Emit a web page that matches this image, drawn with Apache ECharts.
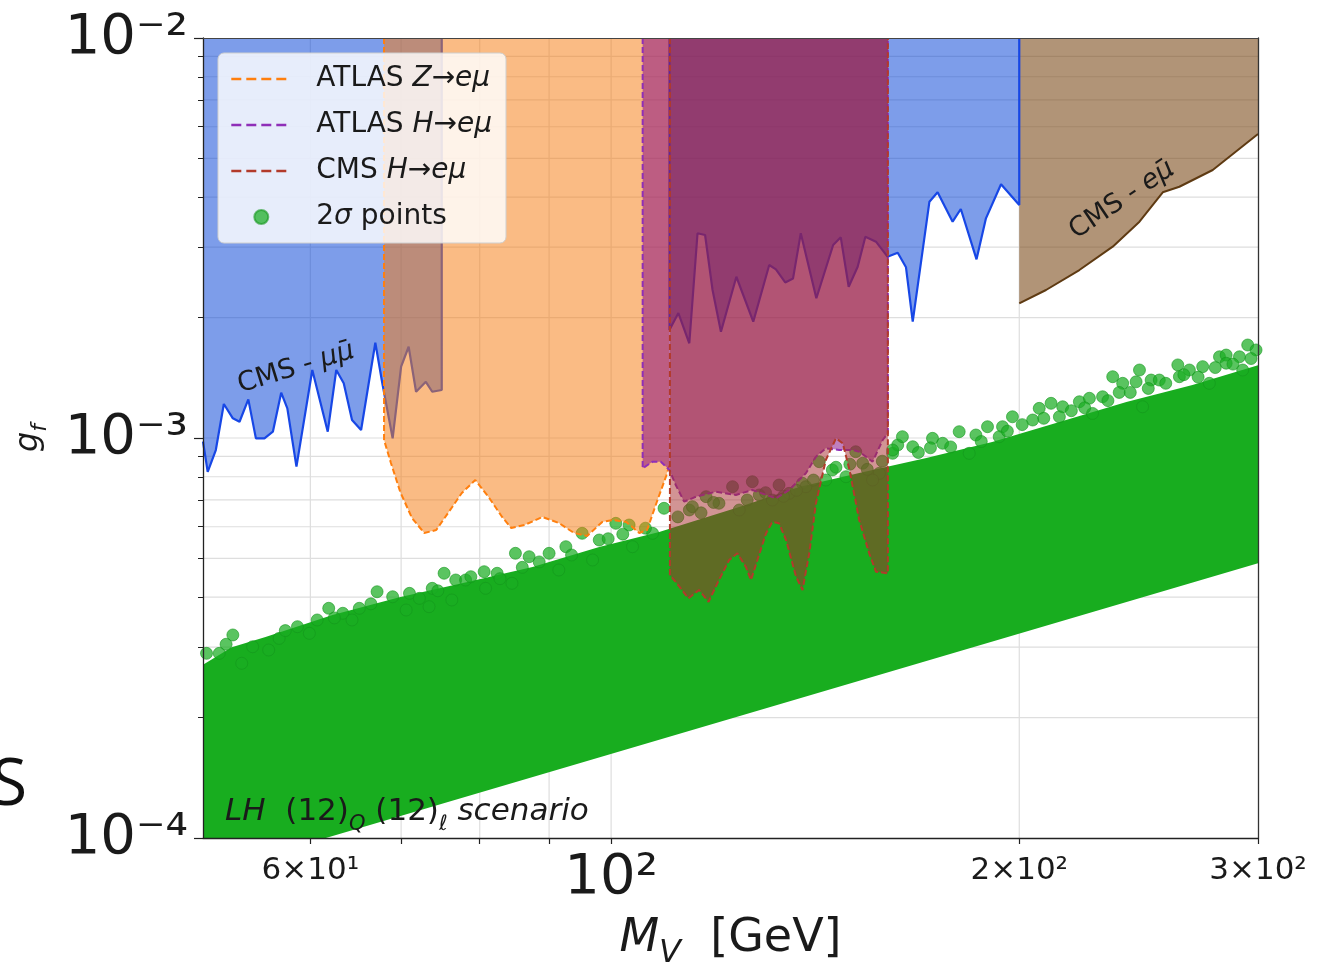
<!DOCTYPE html>
<html><head><meta charset="utf-8">
<script src="https://cdn.jsdelivr.net/npm/echarts@6/dist/echarts.min.js"></script>
<style>html,body{margin:0;padding:0;background:#fff}#chart{width:1335px;height:966px}</style>
</head><body><div id="chart"></div>
<script>
// ---------- axis ranges & ticks ----------
const X_MIN = 50, X_MAX = 300, Y_MIN = 1e-4, Y_MAX = 1e-2;
const xTickValues = [60, 70, 80, 90, 100, 200, 300];
const xLabelValues = [60, 100, 200, 300];
const xTickText = {60: '6×10¹', 100: '10²', 200: '2×10²', 300: '3×10²'};
const xGridValues = [60, 70, 80, 90, 100, 200];
const yMajorTicks = [1e-4, 1e-3, 1e-2];
const yTickText = {'-4': '10⁻⁴', '-3': '10⁻³', '-2': '10⁻²'};
const yMinorTicks = [2e-4,3e-4,4e-4,5e-4,6e-4,7e-4,8e-4,9e-4,2e-3,3e-3,4e-3,5e-3,6e-3,7e-3,8e-3,9e-3];
const yGridValues = [2e-4,3e-4,4e-4,5e-4,6e-4,7e-4,8e-4,9e-4,1e-3,2e-3,3e-3,4e-3,5e-3,6e-3,7e-3,8e-3,9e-3];

// ---------- exclusion limits (lower edges; region extends up to Y_MAX) ----------
const cmsMuMuLow = [[50,9.8e-4],[50.4,8.23e-4],[51.1,9.33e-4],[51.8,1.216e-3],[52.6,1.12e-3],[53.2,1.098e-3],[54.0,1.249e-3],[54.7,9.98e-4],[55.5,9.98e-4],[56.3,1.037e-3],[57.1,1.298e-3],[57.7,1.186e-3],[58.6,8.48e-4],[60.2,1.479e-3],[61.8,1.037e-3],[62.7,1.479e-3],[63.5,1.37e-3],[64.4,1.109e-3],[65.4,1.047e-3],[67.0,1.73e-3],[67.8,1.37e-3],[69.0,9.98e-4],[70.0,1.508e-3],[70.9,1.691e-3],[71.8,1.305e-3],[73.0,1.382e-3],[73.8,1.305e-3],[75,1.318e-3],[75,1e-2]];
const cmsMuMuHigh = [[110.4,1e-2],[110.4,1.862e-3],[112.1,2.053e-3],[114.2,1.725e-3],[115.8,3.249e-3],[117.3,3.217e-3],[118.8,2.344e-3],[120.5,1.844e-3],[123.7,2.53e-3],[127.3,1.953e-3],[130.8,2.707e-3],[132.3,2.64e-3],[134.4,2.449e-3],[136.2,2.506e-3],[138.0,3.249e-3],[141.7,2.235e-3],[145.8,3.037e-3],[147.7,3.175e-3],[149.7,2.389e-3],[152.0,2.681e-3],[154.0,3.186e-3],[156.8,3.096e-3],[159.9,2.84e-3],[162.7,2.906e-3],[165.0,2.671e-3],[166.9,1.953e-3],[171.7,3.897e-3],[174.1,4.114e-3],[178.6,3.473e-3],[181.1,3.737e-3],[186.0,2.797e-3],[189.0,3.541e-3],[193.9,4.308e-3],[200,3.825e-3],[200,1e-2]];
const cmsEMu = [[200,2.171e-3],[209.3,2.344e-3],[221.5,2.63e-3],[234.4,3.008e-3],[245.3,3.473e-3],[255.2,4.114e-3],[262.5,4.247e-3],[277.8,4.677e-3],[300,5.754e-3]];
const atlasZ = [[68.0,1e-2],[68.0,9.886e-4],[68.8,8.66e-4],[69.9,7.328e-4],[71.3,6.31e-4],[72.8,5.788e-4],[74.3,5.888e-4],[75.9,6.531e-4],[77.6,7.286e-4],[79.4,7.852e-4],[81.3,7.079e-4],[83.1,6.346e-4],[84.4,5.957e-4],[86.3,6.06e-4],[89.0,6.346e-4],[91.5,6.131e-4],[93.9,5.788e-4],[96.0,5.689e-4],[98.5,6.166e-4],[100.3,6.237e-4],[102.6,6.166e-4],[104.9,5.788e-4],[106.3,5.888e-4],[108.0,6.879e-4],[109.8,8.035e-4],[110.4,8.56e-4]];
const atlasH = [[105.5,1e-2],[105.5,8.4e-4],[107.3,8.725e-4],[108.8,8.725e-4],[110.4,8.318e-4],[111.6,7.63e-4],[113.2,6.932e-4],[115.5,7.134e-4],[119.5,7.342e-4],[123.6,7.205e-4],[127.1,7.413e-4],[132.3,7.066e-4],[135.3,7.413e-4],[139.2,8.161e-4],[141.6,8.979e-4],[144.0,9.424e-4],[147.3,9.333e-4],[150.7,9.333e-4],[152.4,9.24e-4],[155.9,8.725e-4],[158.6,9.886e-4],[160,1.027e-3],[160,1e-2]];
const cmsH = [[110.5,1e-2],[110.5,4.545e-4],[112.3,4.248e-4],[114.0,3.973e-4],[116.1,4.169e-4],[118.0,3.896e-4],[120.1,4.416e-4],[122.2,4.955e-4],[123.9,5.149e-4],[125.7,4.767e-4],[126.8,4.416e-4],[128.2,4.955e-4],[130.1,5.777e-4],[131.5,6.175e-4],[133.0,6.119e-4],[134.6,5.559e-4],[136.9,4.5e-4],[138.4,4.169e-4],[140.0,5.149e-4],[141.6,6.869e-4],[144.0,8.81e-4],[146.5,9.98e-4],[148.2,9.7e-4],[149.9,8.318e-4],[152.4,6.237e-4],[155.0,5.149e-4],[156.8,4.632e-4],[160,4.59e-4],[160,1e-2]];

// ---------- 2 sigma points: dense band outline + fringe points ----------
const bandUpper = [[50,2.71e-4],[52.5,3.0e-4],[55.6,3.18e-4],[62.3,3.61e-4],[69.8,4.0e-4],[78.2,4.36e-4],[87.5,4.76e-4],[98.0,5.34e-4],[108.5,5.82e-4],[124.3,6.72e-4],[137.6,7.54e-4],[152.4,8.17e-4],[170.8,8.91e-4],[191.0,9.77e-4],[214.1,1.096e-3],[239.9,1.23e-3],[268.4,1.357e-3],[300,1.52e-3]];
const bandLower = [[300,4.86e-4],[61.6,1e-4],[50,1e-4]];
const fringePoints = [
[50.3,2.895e-4],[52.6,3.218e-4],[54.4,3.007e-4],[56.9,3.155e-4],[58.7,3.375e-4],[60.7,3.508e-4],[61.9,3.752e-4],[63.4,3.646e-4],[65.2,3.752e-4],[67.2,4.127e-4],[69.0,4.01e-4],[71.0,4.089e-4],[72.2,3.973e-4],[73.8,4.209e-4],[75.3,4.59e-4],[76.8,4.416e-4],[78.1,4.416e-4],[80.6,4.632e-4],[82.4,4.59e-4],[85.0,5.149e-4],[87.0,5.049e-4],[90.0,5.149e-4],[92.6,5.349e-4],[95.2,5.777e-4],[98.0,5.559e-4],[100.8,6.119e-4],[103.1,6.06e-4],[107.3,5.777e-4],
[109.4,6.672e-4],[114.2,6.607e-4],[117.5,7.134e-4],[122.9,7.556e-4],[127.1,7.776e-4],[133.0,7.63e-4],[135.3,7.273e-4],[138.4,7.705e-4],[142.4,8.725e-4],[145.6,8.318e-4],[151.5,9.24e-4],[153.3,8.646e-4],[157.7,8.161e-4],[161.3,9.156e-4],[162.7,9.605e-4],
[114.8,6.734e-4],[120.1,6.867e-4],[124.3,6.607e-4],[131.5,6.998e-4],[139.2,7.556e-4],[149.0,8.003e-4],[144.0,7.852e-4],[155.9,7.852e-4],[128.6,7.205e-4],
[164.0,1.0075e-3],[172.6,9.98e-4],[180.6,1.037e-3],[185.8,1.0174e-3],[189.5,1.067e-3],[194.4,1.067e-3],[197.7,1.13e-3],[206.9,1.186e-3],[211.1,1.221e-3],[215.3,1.197e-3],[221.5,1.232e-3],[225.3,1.257e-3],[230.4,1.268e-3],[234.4,1.423e-3],[238.4,1.37e-3],[243.9,1.382e-3],[245.3,1.479e-3],[250.2,1.396e-3],[253.7,1.396e-3],[261.8,1.523e-3],[267.0,1.479e-3],[273.1,1.508e-3],[281.0,1.596e-3],[284.2,1.612e-3],[290.7,1.596e-3],[294.8,1.708e-3],[299.0,1.66e-3],
[161.3,9.333e-4],[166.9,9.51e-4],[175.6,9.7e-4],[183.7,9.156e-4],[193.3,1.0075e-3],[204.6,1.109e-3],[214.1,1.13e-3],[226.5,1.152e-3],[246.6,1.197e-3],[262.5,1.423e-3],[276.2,1.37e-3],[284.2,1.538e-3],[292.3,1.479e-3],
[51.4,2.895e-4],[53.4,2.734e-4],[55.9,2.951e-4],[59.9,3.249e-4],[64.4,3.508e-4],[70.6,3.715e-4],[73.4,3.787e-4],[76.3,3.936e-4],[80.8,4.209e-4],[84.5,4.332e-4],[91.5,4.677e-4],[96.9,4.955e-4],[103.7,5.349e-4],
[52.0,3.05e-4],[57.5,3.3e-4],[62.5,3.55e-4],[66.5,3.85e-4],[74.5,4.15e-4],[78.8,4.5e-4],[82.8,4.45e-4],[86.0,4.75e-4],[88.5,4.9e-4],[93.5,5.1e-4],[99.5,5.6e-4],[102.0,5.75e-4],[106.0,5.95e-4],
[112.0,6.35e-4],[116.5,6.5e-4],[119.0,6.9e-4],[126.0,7.0e-4],[130.0,7.3e-4],[134.0,7.15e-4],[137.0,7.4e-4],[141.0,7.85e-4],[146.5,8.45e-4],[150.0,8.6e-4],[154.5,8.35e-4],[158.5,8.75e-4],
[168.5,9.2e-4],[172.0,9.45e-4],[178.0,9.5e-4],[187.5,9.8e-4],[196.0,1.04e-3],[201.0,1.08e-3],[208.5,1.12e-3],[218.5,1.17e-3],[223.5,1.19e-3],[232.5,1.24e-3],[237.0,1.3e-3],[241.5,1.3e-3],[249.0,1.33e-3],[256.5,1.37e-3],[264.5,1.44e-3],[271.0,1.42e-3],[279.0,1.5e-3],[287.5,1.53e-3],[296.5,1.58e-3]
];

const FONT = 'DejaVu Sans';
const INK = '#1a1a1a';
const chart = echarts.init(document.getElementById('chart'), null, {renderer: 'canvas'});

function gridSeries(vals, vertical) {
  return {
    type: 'custom', silent: true, z: 1,
    data: vals.map(v => vertical ? [v, Y_MIN] : [X_MIN, v]),
    renderItem: (p, api) => {
      const v0 = api.value(0), v1 = api.value(1);
      const a = vertical ? api.coord([v0, Y_MIN]) : api.coord([X_MIN, v1]);
      const b = vertical ? api.coord([v0, Y_MAX]) : api.coord([X_MAX, v1]);
      return {type: 'line', shape: {x1: a[0], y1: a[1], x2: b[0], y2: b[1]}, style: {stroke: '#dedede', lineWidth: 1.2}};
    }
  };
}
function region(name, data, area, line, width, dash, z) {
  return {
    type: 'line', name: name, data: data, symbol: 'none', showSymbol: false, silent: true, z: z,
    lineStyle: {color: line, width: width, type: dash || 'solid'},
    itemStyle: {color: line},
    areaStyle: {origin: 'end', color: area, opacity: 1}
  };
}
const hiddenIcon = {color: 'rgba(0,0,0,0)', borderColor: 'rgba(0,0,0,0)', borderWidth: 0};
const legendText = {
  'ATLAS Z→eμ': '{p|ATLAS }{i|Z→eμ}',
  'ATLAS H→eμ': '{p|ATLAS }{i|H→eμ}',
  'CMS H→eμ': '{p|CMS }{i|H→eμ}',
  '2σ points': '{p|2}{i|σ}{r| points}'
};

const option = {
  animation: false,
  backgroundColor: '#ffffff',
  grid: {left: 203, right: 77, top: 38, bottom: 128, show: false, containLabel: false, outerBoundsMode: 'none'},
  xAxis: [
    {type: 'log', logBase: 10, min: X_MIN, max: X_MAX, z: 10,
     axisLine: {show: true, lineStyle: {color: '#222', width: 1.3}},
     axisTick: {show: true, customValues: xTickValues, length: 6, lineStyle: {color: '#222', width: 1.2}},
     axisLabel: {customValues: xLabelValues, margin: 12, color: INK, fontFamily: FONT,
       formatter: v => { const r = Math.round(v); const t = xTickText[r] || '';
         return r === 100 ? '{b|' + t + '}' : '{m|' + t + '}'; },
       rich: {
         b: {fontSize: 56, lineHeight: 56, fontFamily: FONT, color: INK},
         m: {fontSize: 31, lineHeight: 56, fontFamily: FONT, color: INK, padding: [0,0,14,0]}
       }},
     splitLine: {show: false},
     name: '{i|M}{sub|V}{r|  [GeV]}', nameLocation: 'middle', nameGap: 86,
     nameTextStyle: {color: INK, rich: {
       i: {fontSize: 46, fontStyle: 'italic', fontFamily: FONT, color: INK, lineHeight: 46, verticalAlign: 'bottom', padding: [0,0,8,0]},
       sub: {fontSize: 32, fontStyle: 'italic', fontFamily: FONT, color: INK, lineHeight: 32, verticalAlign: 'bottom'},
       r: {fontSize: 46, fontFamily: FONT, color: INK, lineHeight: 46, verticalAlign: 'bottom', padding: [0,0,8,0]}
     }}},
    {type: 'log', logBase: 10, min: X_MIN, max: X_MAX, position: 'top', z: 10,
     axisLine: {show: true, lineStyle: {color: '#444', width: 1.2}}, axisTick: {show: false}, axisLabel: {show: false}, splitLine: {show: false}}
  ],
  yAxis: [
    {type: 'log', logBase: 10, min: Y_MIN, max: Y_MAX, z: 10,
     axisLine: {show: true, lineStyle: {color: '#222', width: 1.3}},
     axisTick: {show: true, customValues: yMajorTicks, length: 9, lineStyle: {color: '#222', width: 1.2}},
     axisLabel: {customValues: yMajorTicks, margin: 15, color: INK, fontFamily: FONT, fontSize: 56,
       formatter: v => yTickText[String(Math.round(Math.log10(v)))] || ''},
     splitLine: {show: false},
     name: '{i|g}{sub|f}', nameLocation: 'middle', nameGap: 152,
     nameTextStyle: {color: INK, rich: {
       i: {fontSize: 32, fontStyle: 'italic', fontFamily: FONT, color: INK, lineHeight: 32, verticalAlign: 'bottom', padding: [0,0,6,0]},
       sub: {fontSize: 22, fontStyle: 'italic', fontFamily: FONT, color: INK, lineHeight: 22, verticalAlign: 'bottom'}
     }}},
    {type: 'log', logBase: 10, min: Y_MIN, max: Y_MAX, position: 'left', z: 10,
     axisLine: {show: false}, axisTick: {show: true, customValues: yMinorTicks, length: 5, lineStyle: {color: '#222', width: 1}},
     axisLabel: {show: false}, splitLine: {show: false}},
    {type: 'log', logBase: 10, min: Y_MIN, max: Y_MAX, position: 'right', z: 10,
     axisLine: {show: true, lineStyle: {color: '#333', width: 1.3}}, axisTick: {show: false}, axisLabel: {show: false}, splitLine: {show: false}}
  ],
  legend: {
    z: 30, left: 218, top: 53, orient: 'vertical', selectedMode: false,
    padding: [12, 14, 12, 12], itemGap: 18, itemWidth: 60, itemHeight: 14,
    backgroundColor: 'rgba(255,255,255,0.82)', borderColor: '#cfcfcf', borderWidth: 1, borderRadius: 6,
    data: [
      {name: 'ATLAS Z→eμ', itemStyle: hiddenIcon, lineStyle: {width: 2.6, type: [10, 5]}},
      {name: 'ATLAS H→eμ', itemStyle: hiddenIcon, lineStyle: {width: 2.6, type: [10, 5]}},
      {name: 'CMS H→eμ', itemStyle: hiddenIcon, lineStyle: {width: 2.6, type: [10, 5]}},
      {name: '2σ points'}
    ],
    formatter: n => legendText[n] || n,
    textStyle: {fontFamily: FONT, fontSize: 28, color: INK, rich: {
      p: {fontSize: 28, fontFamily: FONT, color: INK, lineHeight: 34, padding: [0,0,0,20]},
      r: {fontSize: 28, fontFamily: FONT, color: INK, lineHeight: 34},
      i: {fontSize: 28, fontFamily: FONT, fontStyle: 'italic', color: INK, lineHeight: 34}
    }}
  },
  series: [
    gridSeries(xGridValues, true),
    gridSeries(yGridValues, false),
    {type: 'custom', name: 'band', silent: true, z: 2,
     data: bandUpper.concat(bandLower),
     renderItem: (p, api) => {
       if (p.dataIndex !== 0) return null;
       const pts = bandUpper.concat(bandLower).map(d => api.coord(d));
       return {type: 'polygon', shape: {points: pts}, style: {fill: '#18ad1f'}};
     }},
    {type: 'scatter', name: '2σ points', data: fringePoints, symbol: 'circle', symbolSize: 12, z: 2, silent: true,
     itemStyle: {color: 'rgba(26,173,34,0.9)', borderColor: 'rgba(20,150,28,0.75)', borderWidth: 1}},
    region('CMS μμ low', cmsMuMuLow, 'rgba(10,70,215,0.53)', '#1747e6', 2.2, null, 3),
    region('CMS μμ high', cmsMuMuHigh, 'rgba(10,70,215,0.53)', '#1747e6', 2.2, null, 3),
    region('CMS eμ', cmsEMu, 'rgba(120,70,20,0.58)', '#5e3a12', 2, null, 3),
    region('ATLAS Z→eμ', atlasZ, 'rgba(245,125,20,0.52)', '#ff7f0e', 2, [6, 3], 4),
    region('ATLAS H→eμ', atlasH, 'rgba(128,0,128,0.5)', '#8f2fb8', 2, [6, 3], 5),
    region('CMS H→eμ', cmsH, 'rgba(165,42,42,0.5)', '#b23a2a', 2, [6, 3], 6)
  ],
  graphic: [
    {type: 'text', x: 296, y: 368, rotation: 0.30, z: 100, silent: true,
     style: {text: '{r|CMS - }{i|μμ\u0304}', x: 0, y: 0, align: 'center', verticalAlign: 'middle', textAlign: 'center', textVerticalAlign: 'middle',
       rich: {r: {fontSize: 27, fontFamily: FONT, fill: INK, color: INK}, i: {fontSize: 27, fontFamily: FONT, fontStyle: 'italic', fill: INK, color: INK}}}},
    {type: 'text', x: 1122, y: 200, rotation: 0.59, z: 100, silent: true,
     style: {text: '{r|CMS - }{i|eμ\u0304}', x: 0, y: 0, align: 'center', verticalAlign: 'middle', textAlign: 'center', textVerticalAlign: 'middle',
       rich: {r: {fontSize: 27, fontFamily: FONT, fill: INK, color: INK}, i: {fontSize: 27, fontFamily: FONT, fontStyle: 'italic', fill: INK, color: INK}}}},
    {type: 'text', x: 225, y: 820, z: 100, silent: true,
     style: {text: '{it|LH}{r|  (12)}{sub|Q}{r| (12)}{sub|ℓ}{it| scenario}', x: 0, y: 0, align: 'left', verticalAlign: 'middle', textAlign: 'left', textVerticalAlign: 'middle',
       rich: {
         it: {fontSize: 31, fontFamily: FONT, fontStyle: 'italic', fill: INK, color: INK, lineHeight: 31, verticalAlign: 'bottom', padding: [0,0,8,0]},
         r: {fontSize: 31, fontFamily: FONT, fill: INK, color: INK, lineHeight: 31, verticalAlign: 'bottom', padding: [0,0,8,0]},
         sub: {fontSize: 21, fontFamily: FONT, fontStyle: 'italic', fill: INK, color: INK, lineHeight: 21, verticalAlign: 'bottom'}
       }}},
    {type: 'text', x: -9, y: 786, z: 100, silent: true,
     style: {text: 'S', x: 0, y: 0, align: 'left', verticalAlign: 'middle', textAlign: 'left', textVerticalAlign: 'middle', fontSize: 66, fontFamily: 'Open Sans', fill: '#111', font: '66px "Open Sans"'}}
  ]
};
chart.setOption(option);
</script></body></html>
